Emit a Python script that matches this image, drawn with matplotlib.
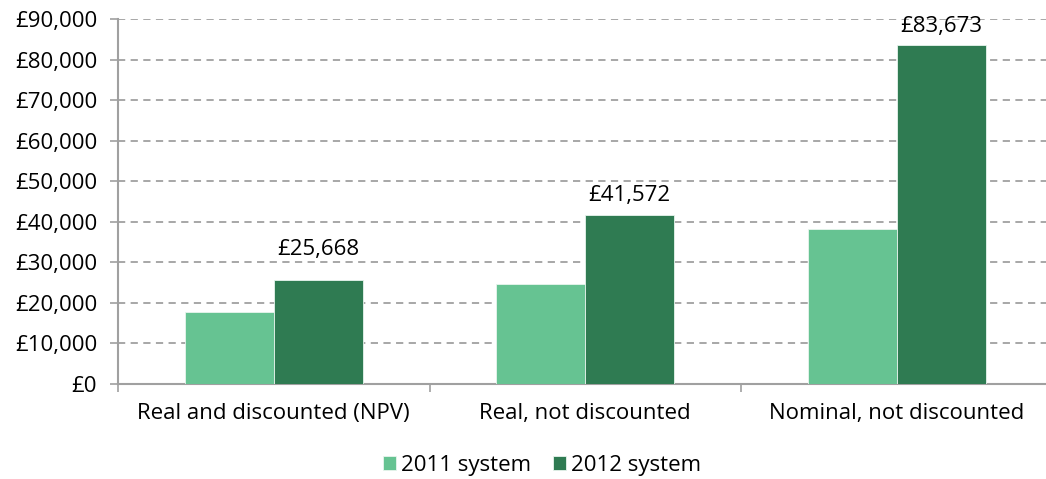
import numpy as np
import matplotlib.pyplot as plt
from matplotlib.ticker import FuncFormatter, FixedLocator

# values
categories = ["Real and discounted (NPV)", "Real, not discounted", "Nominal, not discounted"]
series_names = ["2011 system", "2012 system"]
values_2011 = [17800, 24650, 38200]
values_2012 = [25668, 41572, 83673]
yticks = list(range(0, 90001, 10000))

c2011 = "#66c392"
c2012 = "#2f7b52"
grey = "#a0a0a0"
fs = 16
# label gap above each bar (data units), labels sit unevenly in the original
label_gap = [4800, 2200, 1800]

plt.rcParams["font.family"] = ["Open Sans", "DejaVu Sans"]

fig = plt.figure(figsize=(10.46, 4.79), dpi=100)
ax = fig.add_axes([118 / 1046, 1 - 384 / 479, 1 - 118 / 1046, (384 - 19) / 479])

x = np.arange(len(categories))
w = 0.286
ax.bar(x - w / 2, values_2011, w, color=c2011, edgecolor="#e8f5ee", linewidth=0.6,
       label=series_names[0], zorder=3)
bars = ax.bar(x + w / 2, values_2012, w, color=c2012, edgecolor="#e8f5ee", linewidth=0.6,
              label=series_names[1], zorder=3)

for b, v, g in zip(bars, values_2012, label_gap):
    ax.text(b.get_x() + b.get_width() / 2, v + g, f"£{v:,}",
            ha="center", va="bottom", fontsize=fs, color="black")

ax.set_ylim(0, 90000)
ax.set_xlim(-0.5, (1046 - 118) / 311.5 - 0.5)
ax.set_yticks(yticks)
ax.yaxis.set_major_formatter(FuncFormatter(lambda v, p: f"£{int(v):,}"))
ax.yaxis.grid(True, linestyle=(0, (4, 3)), color=grey, linewidth=1.3, zorder=0)

ax.xaxis.set_major_locator(FixedLocator([-0.5, 0.5, 1.5, 2.5]))
ax.xaxis.set_minor_locator(FixedLocator(x))
ax.set_xticklabels([], minor=False)
ax.set_xticklabels(categories, minor=True)
ax.tick_params(axis="x", which="major", length=6, color=grey, width=1.2)
ax.tick_params(axis="x", which="minor", length=0, pad=14, labelsize=fs)
ax.tick_params(axis="y", length=6, color=grey, width=1.2, labelsize=fs, pad=9)

for side in ["top", "right"]:
    ax.spines[side].set_visible(False)
for side in ["left", "bottom"]:
    ax.spines[side].set_color(grey)
    ax.spines[side].set_linewidth(1.5)

fig.legend(loc="center", bbox_to_anchor=(542 / 1046, 1 - 465 / 479), ncol=2, frameon=False,
           fontsize=fs, handlelength=0.6, handleheight=0.6, handletextpad=0.2,
           columnspacing=1.0)

fig.savefig("out.png", dpi=100)
